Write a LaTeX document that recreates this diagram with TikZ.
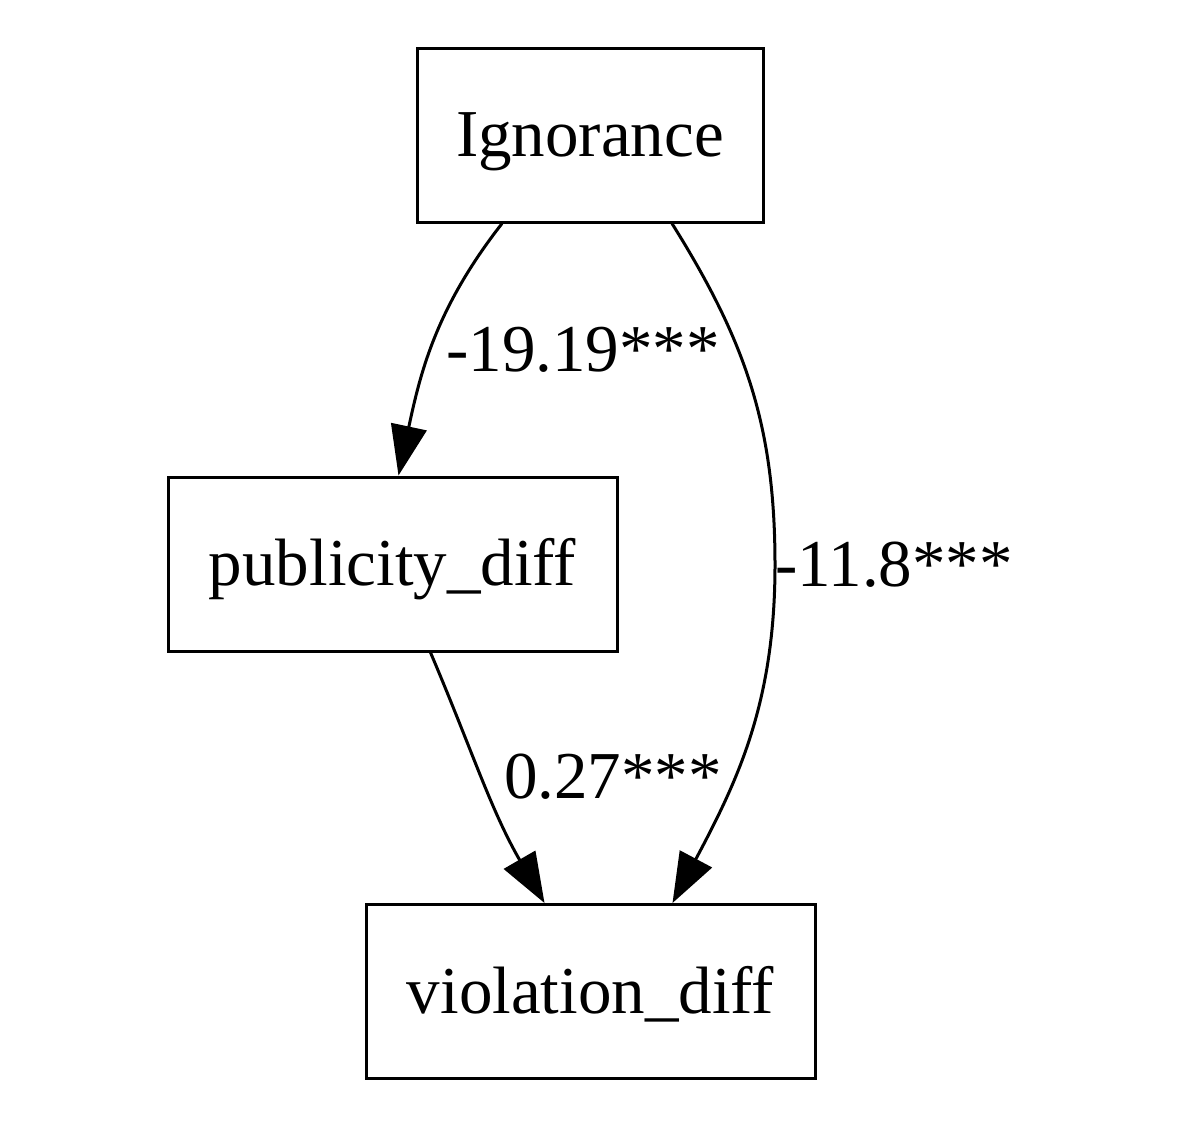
\documentclass[tikz,border=0pt]{standalone}
\usepackage{fontspec}
\setmainfont{Liberation Serif}
\usetikzlibrary{arrows.meta}
\tikzset{
  box/.style={draw,line width=1.5pt,minimum width=173pt,minimum height=87pt,inner sep=0pt,text height=21.5pt,text depth=0pt,font=\fontsize{33.5}{40}\selectfont},
  edge/.style={line width=1.5pt,-{Triangle[length=25pt,width=18pt]}},
  lbl/.style={inner sep=0pt,font=\fontsize{33.5}{40}\selectfont}
}
\begin{document}
\begin{tikzpicture}[x=0.5pt,y=-0.5pt]
  \useasboundingbox (0,0) rectangle (1182,1124);
  \node[box] (ign) at (590,135) {Ignorance};
  \node[box,minimum width=224.5pt] (pub) at (392.5,564) {publicity\_diff};
  \node[box,minimum width=224.5pt] (vio) at (590.5,991.5) {violation\_diff};
  \coordinate (bend) at (775,565);
  \draw[edge] ([xshift=-44pt]ign.south) to[out=232,in=78] ([xshift=3pt]pub.north);
  \node[lbl] (l1) at (583,350) {-19.19***};
  \draw[edge] ([xshift=19pt]pub.south) to[out=-67,in=120] ([xshift=-23pt]vio.north);
  \node[lbl] (l2) at (613,777) {0.27***};
  \draw[line width=1.5pt] ([xshift=41pt]ign.south) to[out=-58,in=90] (bend);
  \draw[edge] (bend) to[out=-90,in=62] ([xshift=41pt]vio.north);
  \node[lbl,anchor=west] (l3) at (bend) {-11.8***};
\end{tikzpicture}
\end{document}
